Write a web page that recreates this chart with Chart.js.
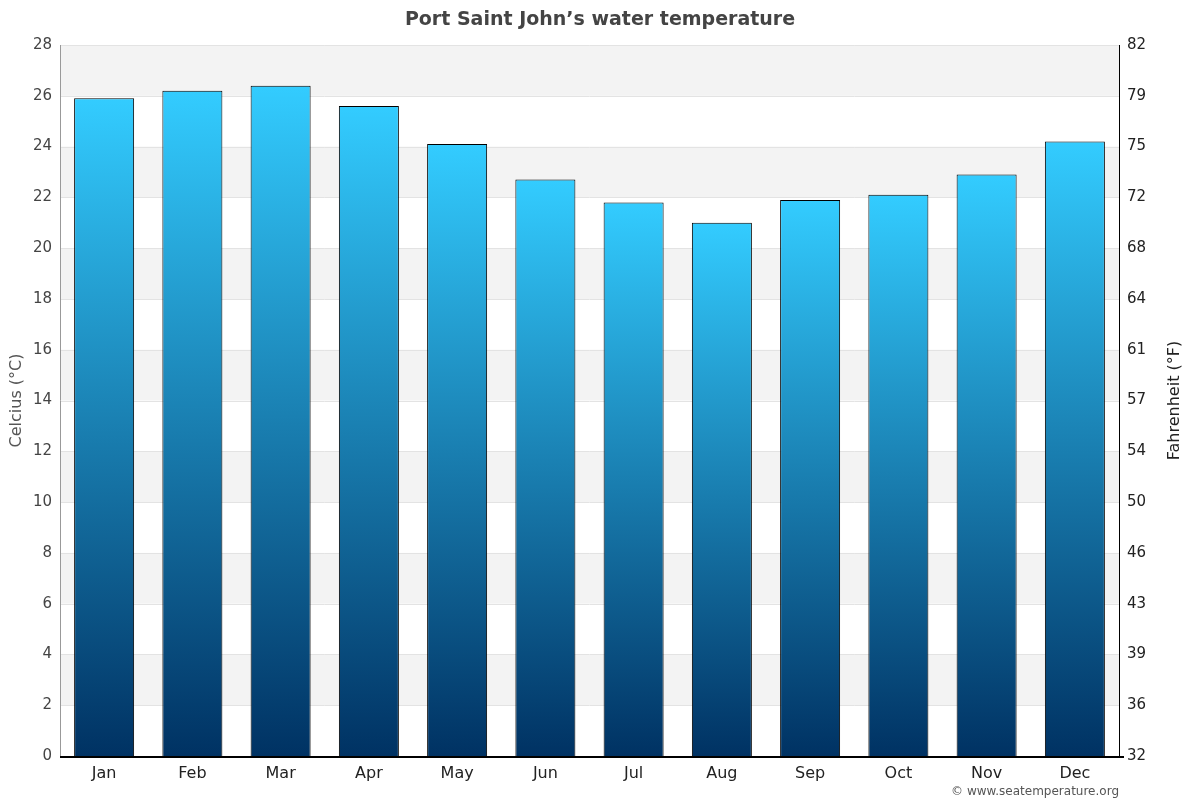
<!DOCTYPE html>
<html>
<head>
<meta charset="utf-8">
<script src="https://cdn.jsdelivr.net/npm/chart.js@4"></script>
<style>
html,body{margin:0;padding:0;background:#fff;}
#wrap{width:1200px;height:800px;position:relative;}
</style>
</head>
<body>
<div id="wrap"><canvas id="c" width="1200" height="800"></canvas></div>
<script>
const months = ["Jan","Feb","Mar","Apr","May","Jun","Jul","Aug","Sep","Oct","Nov","Dec"];
const waterTempC = [25.9, 26.2, 26.4, 25.6, 24.1, 22.7, 21.8, 21.0, 21.9, 22.1, 22.9, 24.2];
const fahrenheitTickLabels = ["32","36","39","43","46","50","54","57","61","64","68","72","75","79","82"];
const chartTitle = "Port Saint John’s water temperature";
const leftAxisTitle = "Celcius (°C)";
const rightAxisTitle = "Fahrenheit (°F)";
const creditText = "© www.seatemperature.org";

const FONT = "'DejaVu Sans', sans-serif";

const bandsPlugin = {
  id: 'bands',
  beforeDatasetsDraw(chart) {
    const {ctx, chartArea, scales} = chart;
    const y = scales.y;
    ctx.save();
    ctx.fillStyle = '#f3f3f3';
    for (let v = 2; v < 28; v += 4) {
      const top = y.getPixelForValue(v + 2);
      const bot = y.getPixelForValue(v);
      ctx.fillRect(chartArea.left, top, chartArea.right - chartArea.left, bot - top);
    }
    ctx.strokeStyle = '#e3e3e3';
    ctx.lineWidth = 1;
    for (let v = 2; v <= 28; v += 2) {
      const py = Math.round(y.getPixelForValue(v)) + 0.5;
      ctx.beginPath();
      ctx.moveTo(chartArea.left, py);
      ctx.lineTo(chartArea.right, py);
      ctx.stroke();
    }
    ctx.restore();
  },
  afterDraw(chart) {
    const {ctx, chartArea} = chart;
    ctx.save();
    ctx.strokeStyle = '#999';
    ctx.lineWidth = 1;
    ctx.beginPath();
    ctx.moveTo(chartArea.left + 0.5, chartArea.top);
    ctx.lineTo(chartArea.left + 0.5, chartArea.bottom);
    ctx.stroke();
    ctx.strokeStyle = '#000';
    ctx.beginPath();
    ctx.moveTo(chartArea.right + 0.5, chartArea.top);
    ctx.lineTo(chartArea.right + 0.5, chartArea.bottom + 1);
    ctx.stroke();
    ctx.lineWidth = 2;
    ctx.beginPath();
    ctx.moveTo(chartArea.left, chartArea.bottom + 1);
    ctx.lineTo(chartArea.right + 5, chartArea.bottom + 1);
    ctx.stroke();
    ctx.fillStyle = '#222';
    ctx.font = "16px " + FONT;
    ctx.textAlign = 'center';
    ctx.textBaseline = 'middle';
    ctx.translate(1175, (chartArea.top + chartArea.bottom) / 2);
    ctx.rotate(-Math.PI / 2);
    ctx.fillText(rightAxisTitle, 0, 0);
    ctx.restore();
    ctx.save();
    ctx.fillStyle = '#555';
    ctx.font = "12px " + FONT;
    ctx.textAlign = 'right';
    ctx.textBaseline = 'middle';
    ctx.fillText(creditText, chartArea.right, 792);
    ctx.restore();
  }
};

function barGradient(context) {
  const chart = context.chart;
  const {ctx, chartArea, scales} = chart;
  if (!chartArea) return '#1a8fd0';
  const v = context.raw;
  const top = scales.y.getPixelForValue(v);
  const bot = scales.y.getPixelForValue(0);
  const g = ctx.createLinearGradient(0, top, 0, bot);
  g.addColorStop(0, '#33ccff');
  g.addColorStop(1, '#003263');
  return g;
}

new Chart(document.getElementById('c'), {
  type: 'bar',
  data: {
    labels: months,
    datasets: [{
      data: waterTempC,
      backgroundColor: barGradient,
      borderColor: '#000',
      borderWidth: 1,
      borderSkipped: 'bottom',
      barPercentage: 0.68,
      categoryPercentage: 1.0
    }]
  },
  options: {
    responsive: false,
    animation: false,
    devicePixelRatio: 1,
    layout: { padding: 0 },
    plugins: {
      legend: { display: false },
      tooltip: { enabled: false },
      title: {
        display: true,
        text: chartTitle,
        color: '#444',
        font: { family: FONT, size: 19, weight: 'bold', lineHeight: 1.2 },
        padding: { top: 9, bottom: 13.2 }
      }
    },
    scales: {
      x: {
        grid: { display: false, drawTicks: false },
        border: { display: false },
        ticks: { color: '#222', font: { family: FONT, size: 16 }, padding: 8 },
        afterFit(s) { s.height = 44; }
      },
      y: {
        position: 'left',
        min: 0, max: 28,
        grid: { display: false, drawTicks: false },
        border: { display: false },
        ticks: { stepSize: 2, color: '#444', font: { family: FONT, size: 15 }, padding: 8 },
        title: { display: true, text: leftAxisTitle, color: '#555', font: { family: FONT, size: 16 }, padding: { top: 7, bottom: 0 } },
        afterFit(s) { s.width = 60; }
      },
      y2: {
        type: 'linear',
        position: 'right',
        min: 0, max: 28,
        grid: { display: false, drawTicks: false },
        border: { display: false },
        ticks: {
          stepSize: 2, color: '#222', font: { family: FONT, size: 15 }, padding: 8,
          callback(value) { return fahrenheitTickLabels[Math.round(value / 2)]; }
        },
        afterFit(s) { s.width = 81; }
      }
    }
  },
  plugins: [bandsPlugin]
});
</script>
</body>
</html>
